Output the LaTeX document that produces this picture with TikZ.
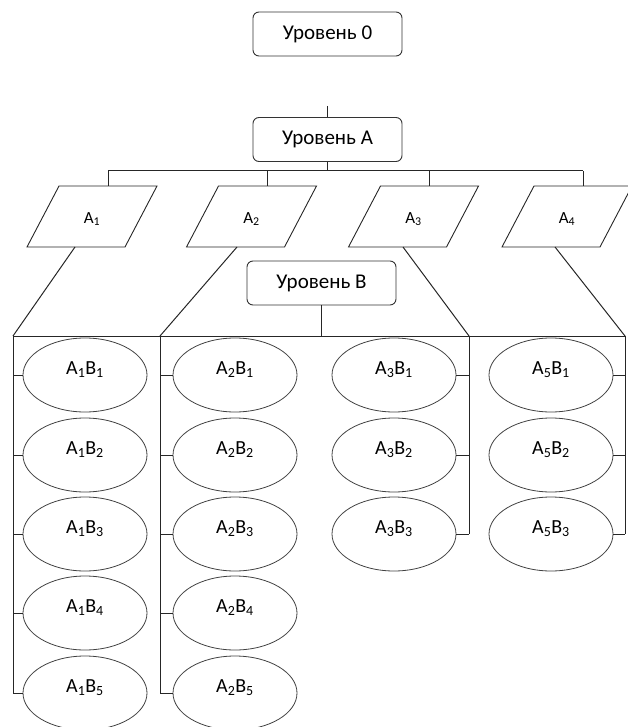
\documentclass[tikz,border=0pt]{standalone}
\usepackage{fontspec}
\setmainfont{Carlito}
\usetikzlibrary{calc,shapes.geometric}
\begin{document}
\begin{tikzpicture}[x=1pt,y=-1pt,
  lvl/.style={draw=black!80,line width=0.9pt,rounded corners=6pt,minimum width=149pt,minimum height=44pt,inner sep=0pt,font=\fontsize{21}{23}\selectfont},
  plabel/.style={inner sep=0pt,font=\fontsize{17}{19}\selectfont},
  leaf/.style={draw=black!75,line width=0.8pt,ellipse,minimum width=124pt,minimum height=74pt,inner sep=0pt,text depth=14pt,font=\fontsize{20}{22}\selectfont},
  wire/.style={draw=black!85,line width=1pt},
  pshape/.style={draw=black!85,line width=0.9pt}]
\useasboundingbox (0,0) rectangle (627,727);

% level boxes
\node[lvl] (L0) at (327.5,34) {Уровень 0};
\node[lvl] (LA) at (327.5,139.5) {Уровень A};
\node[lvl] (LB) at (321.5,283) {Уровень B};
\coordinate (stub) at (327.5,106);
\draw[wire] (stub) -- (LA.north);

% parallelograms
\foreach \n/\cx in {1/92,2/251.5,3/413.5,4/567}{
  \node[plabel] (A\n) at (\cx,219) {A\textsubscript{\n}};
  \draw[pshape] ([shift={(-33,-33)}]A\n.center) -- ([shift={(65,-33)}]A\n.center)
     -- ([shift={(33,28)}]A\n.center) -- ([shift={(-65,28)}]A\n.center) -- cycle;
  \coordinate (A\n top) at ([shift={(16,-33)}]A\n.center);
}
\coordinate (barA) at (0,171);
\draw[wire] (LA.south) -- (LA.south |- barA);
\draw[wire] (A1top |- barA) -- (A4top |- barA);
\foreach \n in {1,2,3,4}{\draw[wire] (A\n top |- barA) -- (A\n top);}

% bottom connection points of parallelograms
\coordinate (A1bot) at (75,247);
\coordinate (A2bot) at (237,247);
\coordinate (A3bot) at (403,247);
\coordinate (A4bot) at (555,247);

% bus corners
\coordinate (b1) at (13,336);
\coordinate (b2) at (160,336);
\coordinate (b3) at (469,336);
\coordinate (b4) at (625,336);
\draw[wire] (b1) -- (b4);
\draw[wire] (LB.south) -- (LB.south |- b1);
\draw[wire] (A1bot) -- (b1);
\draw[wire] (A2bot) -- (b2);
\draw[wire] (A3bot) -- (b3);
\draw[wire] (A4bot) -- (b4);

% leaves
\foreach \r/\y in {1/375,2/455,3/534,4/613,5/693}{
  \node[leaf] (e1\r) at (85,\y) {A\textsubscript{1}B\textsubscript{\r}};
  \node[leaf] (e2\r) at (235,\y) {A\textsubscript{2}B\textsubscript{\r}};
  \draw[wire] (e1\r.west) -- (e1\r.west -| b1);
  \draw[wire] (e2\r.west) -- (e2\r.west -| b2);
}
\foreach \r/\y in {1/375,2/455,3/534}{
  \node[leaf] (e3\r) at (394,\y) {A\textsubscript{3}B\textsubscript{\r}};
  \node[leaf] (e4\r) at (551,\y) {A\textsubscript{5}B\textsubscript{\r}};
  \draw[wire] (e3\r.east) -- (e3\r.east -| b3);
  \draw[wire] (e4\r.east) -- (e4\r.east -| b4);
}
\draw[wire] (b1) -- (e15.west -| b1);
\draw[wire] (b2) -- (e25.west -| b2);
\draw[wire] (b3) -- (e33.east -| b3);
\draw[wire] (b4) -- (e43.east -| b4);
\end{tikzpicture}
\end{document}
